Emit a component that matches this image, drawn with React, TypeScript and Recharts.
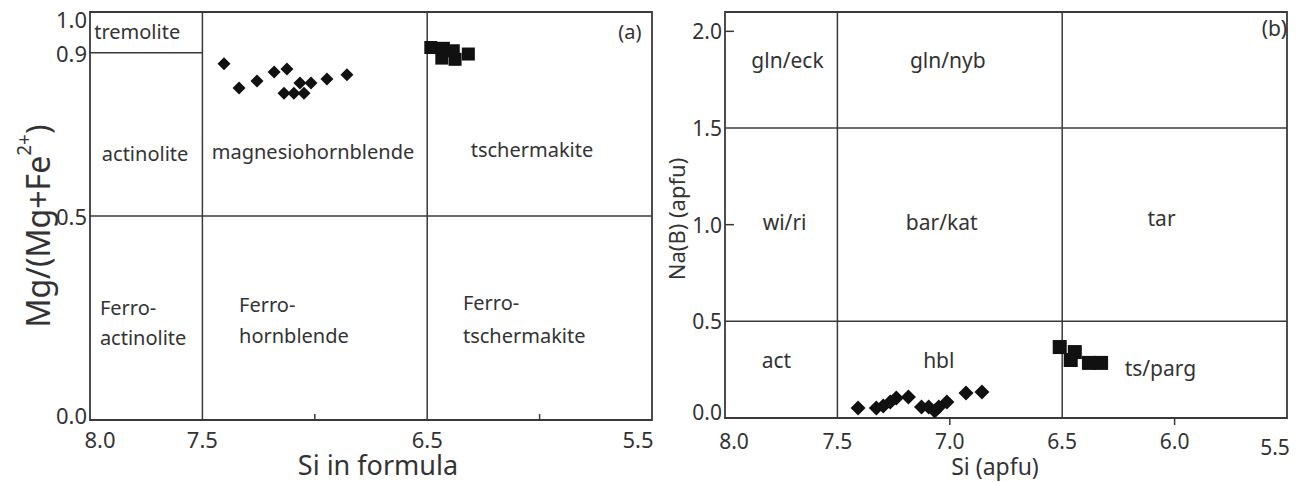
import React from 'react';
import { ScatterChart, Scatter, XAxis, YAxis, ReferenceLine, ReferenceArea } from 'recharts';

// panel (a): Si vs Mg/(Mg+Fe2+)
const hblA = [
  { x: 7.404, y: 0.873 }, { x: 7.337, y: 0.814 }, { x: 7.257, y: 0.831 }, { x: 7.181, y: 0.853 },
  { x: 7.124, y: 0.86 }, { x: 7.137, y: 0.801 }, { x: 7.093, y: 0.801 }, { x: 7.066, y: 0.826 },
  { x: 7.048, y: 0.801 }, { x: 7.017, y: 0.826 }, { x: 6.946, y: 0.836 }, { x: 6.857, y: 0.846 },
];
const tsA = [
  { x: 6.484, y: 0.913 }, { x: 6.428, y: 0.911 }, { x: 6.435, y: 0.887 },
  { x: 6.376, y: 0.884 }, { x: 6.384, y: 0.905 }, { x: 6.317, y: 0.897 },
];
const fieldsA = [
  { x: 7.79, y: 0.951, text: 'tremolite', anchor: 'middle' },
  { x: 7.755, y: 0.654, text: 'actinolite', anchor: 'middle' },
  { x: 7.008, y: 0.657, text: 'magnesiohornblende', anchor: 'middle' },
  { x: 6.034, y: 0.662, text: 'tschermakite', anchor: 'middle' },
  { x: 7.956, y: 0.275, text: 'Ferro-', anchor: 'start' },
  { x: 7.956, y: 0.201, text: 'actinolite', anchor: 'start' },
  { x: 7.337, y: 0.282, text: 'Ferro-', anchor: 'start' },
  { x: 7.337, y: 0.208, text: 'hornblende', anchor: 'start' },
  { x: 6.341, y: 0.287, text: 'Ferro-', anchor: 'start' },
  { x: 6.341, y: 0.208, text: 'tschermakite', anchor: 'start' },
  { x: 5.598, y: 0.953, text: '(a)', anchor: 'middle' },
];
const xTicksA = [8, 7.5, 7, 6.5, 6, 5.5];
const xLabelsA = [8, 7.5, 6.5, 5.5];
const yTicksA = [0, 0.5, 0.9, 1];

// panel (b): Si vs Na(B)
const hblB = [
  { x: 7.408, y: 0.052 }, { x: 7.327, y: 0.052 }, { x: 7.296, y: 0.062 }, { x: 7.265, y: 0.083 },
  { x: 7.238, y: 0.103 }, { x: 7.184, y: 0.109 }, { x: 7.126, y: 0.057 }, { x: 7.094, y: 0.057 },
  { x: 7.067, y: 0.036 }, { x: 7.049, y: 0.057 }, { x: 7.013, y: 0.083 }, { x: 6.928, y: 0.129 },
  { x: 6.857, y: 0.135 },
];
const tsB = [
  { x: 6.511, y: 0.367 }, { x: 6.444, y: 0.341 }, { x: 6.462, y: 0.3 },
  { x: 6.381, y: 0.285 }, { x: 6.327, y: 0.285 },
];
const fieldsB = [
  { x: 7.722, y: 1.852, text: 'gln/eck', anchor: 'middle' },
  { x: 7.009, y: 1.852, text: 'gln/nyb', anchor: 'middle' },
  { x: 7.735, y: 1.014, text: 'wi/ri', anchor: 'middle' },
  { x: 7.036, y: 1.014, text: 'bar/kat', anchor: 'middle' },
  { x: 6.058, y: 1.035, text: 'tar', anchor: 'middle' },
  { x: 7.771, y: 0.3, text: 'act', anchor: 'middle' },
  { x: 7.049, y: 0.3, text: 'hbl', anchor: 'middle' },
  { x: 6.063, y: 0.259, text: 'ts/parg', anchor: 'middle' },
  { x: 5.556, y: 2.018, text: '(b)', anchor: 'middle' },
];
const xTicksB = [8, 7.5, 7, 6.5, 6, 5.5];
const yTicksB = [0, 0.5, 1, 1.5, 2];

const FONT = "'Noto Sans', sans-serif";
const LINE = '#3a3a3a';
const TXT = '#333';

const diamond = (half: number) => (p: any) => (
  <polygon
    points={`${p.cx},${p.cy - half} ${p.cx + half},${p.cy} ${p.cx},${p.cy + half} ${p.cx - half},${p.cy}`}
    fill="#111"
  />
);
const square = (half: number) => (p: any) => (
  <rect x={p.cx - half} y={p.cy - half} width={half * 2} height={half * 2} fill="#111" />
);

const fieldText = (size: number) => (p: any) => (
  <text x={p.cx} y={p.cy} textAnchor={p.payload.anchor} dominantBaseline="central" fontSize={size} fill={TXT} fontFamily={FONT}>
    {p.payload.text}
  </text>
);

const XTickA = (p: any) => {
  const v = p.payload.value;
  if (!xLabelsA.includes(v)) {
    return <line x1={p.x} x2={p.x} y1={p.y} y2={p.y - 6} stroke={LINE} strokeWidth={1.5} />;
  }
  const dx = v === 8 ? 10 : v === 5.5 ? -14 : 0;
  return (
    <text x={p.x + dx} y={p.y + 19} textAnchor="middle" dominantBaseline="central" fontSize={22} fill={TXT} fontFamily={FONT}>
      {v.toFixed(1)}
    </text>
  );
};

const YTickA = (p: any) => {
  const v = p.payload.value;
  const dy = v === 1 ? 7 : v === 0 ? -5 : 0;
  return (
    <text x={p.x - 3} y={p.y + dy} textAnchor="end" dominantBaseline="central" fontSize={22} fill={TXT} fontFamily={FONT}>
      {v.toFixed(1)}
    </text>
  );
};

const XTickB = (p: any) => {
  const v = p.payload.value;
  const dy = v === 5.5 ? 29 : 23;
  const dx = v === 8 ? 9 : v === 5.5 ? -12 : 0;
  return (
    <g>
      {(v === 7 || v === 6) && <line x1={p.x} x2={p.x} y1={p.y} y2={p.y + 7} stroke={LINE} strokeWidth={1.5} />}
      <text x={p.x + dx} y={p.y + dy} textAnchor="middle" dominantBaseline="central" fontSize={21} fill={TXT} fontFamily={FONT}>
        {v.toFixed(1)}
      </text>
    </g>
  );
};

const YTickB = (p: any) => {
  const v = p.payload.value;
  const dy = v === 0 ? -6 : 0;
  return (
    <g>
      {(v === 2 || v === 1) && <line x1={p.x} x2={p.x + 9} y1={p.y} y2={p.y} stroke={LINE} strokeWidth={1.5} />}
      <text x={p.x - 3} y={p.y + dy} textAnchor="end" dominantBaseline="central" fontSize={21} fill={TXT} fontFamily={FONT}>
        {v.toFixed(1)}
      </text>
    </g>
  );
};

const YTitleA = (p: any) => {
  const vb = p.viewBox;
  const cx = vb.x + 37;
  const cy = vb.y + vb.height / 2 + 10;
  return (
    <text x={cx} y={cy} transform={`rotate(-90 ${cx} ${cy})`} textAnchor="middle" dominantBaseline="central" fontSize={32} fill={TXT} fontFamily={FONT}>
      Mg/(Mg+Fe
      <tspan fontSize={19} dy={-13}>2+</tspan>
      <tspan dy={13}>)</tspan>
    </text>
  );
};

const XTitleA = (p: any) => {
  const vb = p.viewBox;
  return (
    <text x={vb.x + vb.width / 2 + 7} y={vb.y + 44} textAnchor="middle" dominantBaseline="central" fontSize={27} fill={TXT} fontFamily={FONT}>
      Si in formula
    </text>
  );
};

const YTitleB = (p: any) => {
  const vb = p.viewBox;
  const cx = vb.x + 36;
  const cy = vb.y + vb.height / 2 + 4;
  return (
    <text x={cx} y={cy} transform={`rotate(-90 ${cx} ${cy})`} textAnchor="middle" dominantBaseline="central" fontSize={22} fill={TXT} fontFamily={FONT}>
      Na(B) (apfu)
    </text>
  );
};

const XTitleB = (p: any) => {
  const vb = p.viewBox;
  return (
    <text x={vb.x + vb.width / 2 - 11} y={vb.y + 48} textAnchor="middle" dominantBaseline="central" fontSize={23} fill={TXT} fontFamily={FONT}>
      Si (apfu)
    </text>
  );
};

export default function App() {
  return (
    <div style={{ position: 'absolute', left: 0, top: 0, width: 1303, height: 482, background: '#fff' }}>
      {/* (a) */}
      <div style={{ position: 'absolute', left: 0, top: 0 }}>
        <ScatterChart width={680} height={482} margin={{ top: 12, right: 28, bottom: 0, left: 0 }}>
          <XAxis
            type="number"
            dataKey="x"
            domain={[5.5, 8]}
            reversed
            allowDataOverflow
            ticks={xTicksA}
            interval={0}
            axisLine={false}
            tickLine={false}
            tickSize={0}
            tickMargin={0}
            height={62}
            tick={<XTickA />}
            label={XTitleA}
          />
          <YAxis
            type="number"
            dataKey="y"
            domain={[0, 1]}
            allowDataOverflow
            ticks={yTicksA}
            interval={0}
            axisLine={false}
            tickLine={false}
            tickSize={0}
            tickMargin={0}
            width={90}
            tick={<YTickA />}
            label={YTitleA}
          />
          <ReferenceArea x1={8} x2={5.5} y1={0} y2={1} fill="none" stroke={LINE} strokeWidth={1.8} />
          <ReferenceLine x={7.5} stroke={LINE} strokeWidth={1.5} />
          <ReferenceLine x={6.5} stroke={LINE} strokeWidth={1.5} />
          <ReferenceLine y={0.5} stroke={LINE} strokeWidth={1.5} />
          <ReferenceLine segment={[{ x: 8, y: 0.9 }, { x: 7.5, y: 0.9 }]} stroke={LINE} strokeWidth={1.5} />
          <Scatter data={fieldsA} shape={fieldText(20)} isAnimationActive={false} />
          <Scatter data={hblA} shape={diamond(6.5)} isAnimationActive={false} />
          <Scatter data={tsA} shape={square(6.5)} isAnimationActive={false} />
        </ScatterChart>
      </div>
      {/* (b) */}
      <div style={{ position: 'absolute', left: 640, top: 0 }}>
        <ScatterChart width={663} height={482} margin={{ top: 12, right: 16, bottom: 0, left: 0 }}>
          <XAxis
            type="number"
            dataKey="x"
            domain={[5.5, 8]}
            reversed
            allowDataOverflow
            ticks={xTicksB}
            interval={0}
            axisLine={false}
            tickLine={false}
            tickSize={0}
            tickMargin={0}
            height={64}
            tick={<XTickB />}
            label={XTitleB}
          />
          <YAxis
            type="number"
            dataKey="y"
            domain={[0, 2.1]}
            allowDataOverflow
            ticks={yTicksB}
            interval={0}
            axisLine={false}
            tickLine={false}
            tickSize={0}
            tickMargin={0}
            width={85}
            tick={<YTickB />}
            label={YTitleB}
          />
          <ReferenceArea x1={8} x2={5.5} y1={0} y2={2.1} fill="none" stroke={LINE} strokeWidth={1.8} />
          <ReferenceLine x={7.5} stroke={LINE} strokeWidth={1.5} />
          <ReferenceLine x={6.5} stroke={LINE} strokeWidth={1.5} />
          <ReferenceLine y={0.5} stroke={LINE} strokeWidth={1.5} />
          <ReferenceLine y={1.5} stroke={LINE} strokeWidth={1.5} />
          <Scatter data={fieldsB} shape={fieldText(21)} isAnimationActive={false} />
          <Scatter data={hblB} shape={diamond(7.5)} isAnimationActive={false} />
          <Scatter data={tsB} shape={square(7)} isAnimationActive={false} />
        </ScatterChart>
      </div>
    </div>
  );
}
